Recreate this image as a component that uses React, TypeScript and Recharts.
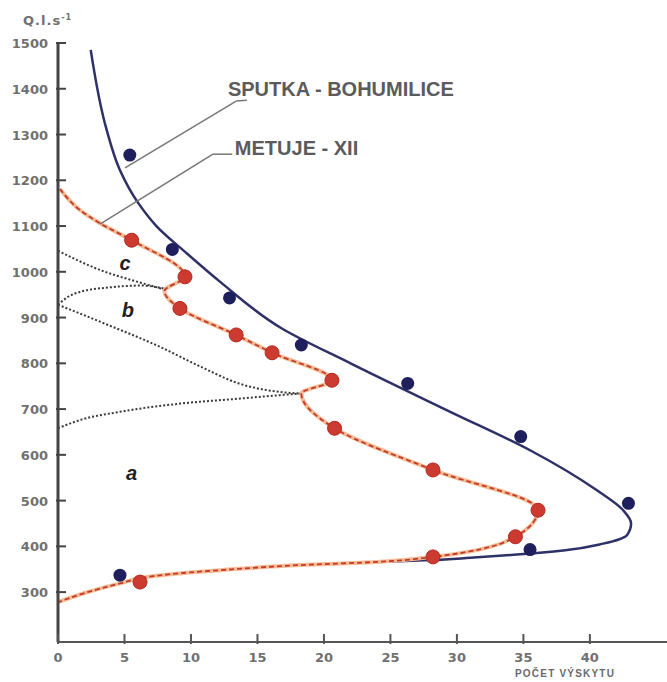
import React from 'react';
import {
  ComposedChart,
  Line,
  Scatter,
  XAxis,
  YAxis,
  ReferenceLine,
  ReferenceDot,
} from 'recharts';

// Sputka - Bohumilice: fitted curve
const sputkaCurveX = [2.46, 3.66, 4.66, 6.04, 7.4, 9.7, 12.2, 16.9, 22.0, 29.5, 35.5, 40.5, 42.5, 43.1, 42.8, 41.0, 38.0, 34.5, 31.0, 28.0, 24.0, 18.2, 12.2, 9.9, 6.9, 4.66, 2.0, 0.15];
const sputkaCurveQ = [1485, 1310, 1222, 1150, 1100, 1040, 978, 875, 800, 694, 610, 523, 479, 450, 425, 406, 391, 382, 375, 370, 366, 359, 348, 343, 334, 319, 298, 280];

// Sputka - Bohumilice: observed points
const sputkaDotsX = [5.4, 8.6, 12.9, 18.3, 26.3, 34.8, 42.9, 35.5, 4.66];
const sputkaDotsQ = [1255, 1049, 943, 840, 756, 640, 494, 393, 337];

// Metuje - XII: fitted curve
const metujeCurveX = [0.15, 1.65, 3.16, 5.54, 9.55, 8.0, 9.17, 13.4, 16.1, 20.6, 18.3, 20.8, 28.2, 36.1, 34.4, 28.2, 24.0, 18.2, 12.2, 9.9, 6.9, 4.66, 2.0, 0];
const metujeCurveQ = [1181, 1135, 1106, 1069, 989, 958, 920, 862, 823, 763, 734, 658, 567, 479, 421, 377, 366, 359, 348, 343, 334, 319, 298, 278];

// Metuje - XII: observed points
const metujeDotsX = [5.54, 9.55, 9.17, 13.4, 16.1, 20.6, 20.8, 28.2, 36.1, 34.4, 28.2, 6.17];
const metujeDotsQ = [1069, 989, 920, 862, 823, 763, 658, 567, 479, 421, 377, 322];

// component boundaries (dotted)
const cLineX = [0, 3.16, 6.0, 8.2];
const cLineQ = [1046, 1004, 978, 960];
const bUpperX = [0, 0.8, 1.65, 3.9, 6.2, 8.2];
const bUpperQ = [928, 946, 956, 966, 970, 962];
const bLowerX = [0, 3.16, 7.67, 10.7, 13.7, 16.0, 18.2];
const bLowerQ = [928, 891, 836, 793, 755, 740, 734];
const aLowerX = [0, 1.65, 4.66, 9.2, 13.7, 16.5, 18.2];
const aLowerQ = [658, 676, 694, 712, 723, 730, 734];

const xTicks = [0, 5, 10, 15, 20, 25, 30, 35, 40];
const yTicks = [300, 400, 500, 600, 700, 800, 900, 1000, 1100, 1200, 1300, 1400, 1500];

const pts = (xs: number[], qs: number[]) => xs.map((x, i) => ({ x, y: qs[i] }));

const TICK_FONT = { fontFamily: 'DejaVu Sans', fontSize: 13, fontWeight: 700, fill: '#707070' };
const NOTE_FONT = { fontFamily: 'Liberation Sans', fontSize: 20, fontWeight: 700, fill: '#5b5b5b' };
const PART_FONT = { fontFamily: 'Liberation Sans', fontSize: 20, fontWeight: 700, fontStyle: 'italic', fill: '#222' };

function XTick(props: any) {
  const { x, y, payload } = props;
  return (
    <g>
      <line x1={x} x2={x} y1={y} y2={y - 10} stroke="#555" strokeWidth={2} />
      <text x={x} y={y + 18} textAnchor="middle" {...TICK_FONT}>
        {payload.value}
      </text>
    </g>
  );
}

function YTick(props: any) {
  const { x, y, payload } = props;
  return (
    <g>
      <line x1={x} x2={x + 10} y1={y} y2={y} stroke="#444" strokeWidth={2} />
      <text x={x - 8} y={y + 5} textAnchor="end" {...TICK_FONT}>
        {payload.value}
      </text>
    </g>
  );
}

const blueDot = (p: any) => <circle cx={p.cx} cy={p.cy} r={6.5} fill="#1e1f5c" />;
const redDot = (p: any) => (
  <circle cx={p.cx} cy={p.cy} r={7} fill="#cc3a30" stroke="#b02a22" strokeWidth={1} />
);

export default function App() {
  return (
    <div style={{ position: 'relative', width: 667, height: 682, background: '#fff' }}>
      <style>{'body{margin:0}'}</style>
      <ComposedChart width={667} height={682} margin={{ top: 43, right: 0, bottom: 0, left: 0 }}>
        <XAxis
          type="number"
          dataKey="x"
          domain={[0, 45.8]}
          ticks={xTicks}
          interval={0}
          allowDataOverflow
          height={40}
          tickSize={0}
          tickLine={false}
          tick={(p: any) => <XTick {...p} />}
          axisLine={{ stroke: '#555', strokeWidth: 2 }}
        />
        <YAxis
          type="number"
          dataKey="y"
          domain={[191, 1500]}
          ticks={yTicks}
          interval={0}
          allowDataOverflow
          width={58}
          tickSize={0}
          tickLine={false}
          tick={(p: any) => <YTick {...p} />}
          axisLine={{ stroke: '#444', strokeWidth: 3 }}
        />

        {/* component boundaries */}
        {[pts(cLineX, cLineQ), pts(bUpperX, bUpperQ), pts(bLowerX, bLowerQ), pts(aLowerX, aLowerQ)].map((d, i) => (
          <Line
            key={i}
            data={d}
            dataKey="y"
            type="monotoneX"
            stroke="#3a3a3a"
            strokeWidth={2}
            strokeDasharray="2 2"
            dot={false}
            isAnimationActive={false}
          />
        ))}

        <Line
          data={pts(sputkaCurveX, sputkaCurveQ)}
          dataKey="y"
          type="monotoneY"
          stroke="#2e3068"
          strokeWidth={2.5}
          dot={false}
          isAnimationActive={false}
        />
        <Line
          data={pts(metujeCurveX, metujeCurveQ)}
          dataKey="y"
          type="monotoneY"
          stroke="#f5bd95"
          strokeWidth={4}
          dot={false}
          isAnimationActive={false}
        />
        <Line
          data={pts(metujeCurveX, metujeCurveQ)}
          dataKey="y"
          type="monotoneY"
          stroke="#c23a2c"
          strokeWidth={1.8}
          strokeDasharray="5 3"
          dot={false}
          isAnimationActive={false}
        />

        <Scatter data={pts(sputkaDotsX, sputkaDotsQ)} shape={blueDot} isAnimationActive={false} />
        <Scatter data={pts(metujeDotsX, metujeDotsQ)} shape={redDot} isAnimationActive={false} />

        {/* leader lines */}
        <ReferenceLine segment={[{ x: 5.04, y: 1227 }, { x: 13.4, y: 1373 }]} stroke="#777" strokeWidth={1.5} />
        <ReferenceLine segment={[{ x: 13.4, y: 1373 }, { x: 14.2, y: 1375 }]} stroke="#777" strokeWidth={1.5} />
        <ReferenceLine segment={[{ x: 3.16, y: 1104 }, { x: 11.65, y: 1257 }]} stroke="#777" strokeWidth={1.5} />
        <ReferenceLine segment={[{ x: 11.65, y: 1257 }, { x: 13.1, y: 1257 }]} stroke="#777" strokeWidth={1.5} />

        <ReferenceDot x={12.78} y={1399} r={0} fill="none" stroke="none"
          label={{ value: 'SPUTKA - BOHUMILICE', position: 'right', offset: 0, ...NOTE_FONT }} />
        <ReferenceDot x={13.3} y={1270} r={0} fill="none" stroke="none"
          label={{ value: 'METUJE - XII', position: 'right', offset: 0, ...NOTE_FONT }} />

        <ReferenceDot x={5.04} y={1019} r={0} fill="none" stroke="none"
          label={{ value: 'c', position: 'center', ...PART_FONT }} />
        <ReferenceDot x={5.26} y={916} r={0} fill="none" stroke="none"
          label={{ value: 'b', position: 'center', ...PART_FONT }} />
        <ReferenceDot x={5.54} y={560} r={0} fill="none" stroke="none"
          label={{ value: 'a', position: 'center', ...PART_FONT }} />
      </ComposedChart>

      <div
        style={{
          position: 'absolute', left: 23, top: 13, fontFamily: 'DejaVu Sans', fontSize: 13,
          fontWeight: 700, color: '#707070', letterSpacing: 1,
        }}
      >
        Q.l.s<sup style={{ fontSize: 8 }}>-1</sup>
      </div>
      <div
        style={{
          position: 'absolute', left: 515, top: 668, fontFamily: 'Liberation Sans', fontSize: 10,
          fontWeight: 700, color: '#6a6a6a', letterSpacing: 1.2, whiteSpace: 'nowrap',
        }}
      >
        POČET VÝSKYTU
      </div>
    </div>
  );
}
